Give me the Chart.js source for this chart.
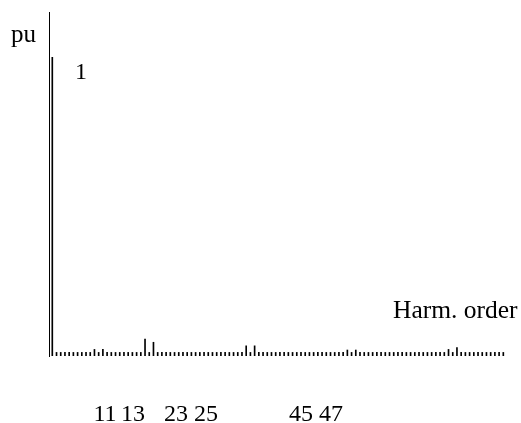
<!DOCTYPE html>
<html>
<head>
<meta charset="utf-8">
<script src="https://cdn.jsdelivr.net/npm/chart.js@4/dist/chart.umd.min.js"></script>
<style>
  html, body { margin: 0; padding: 0; background: #fff; }
  #wrap { position: relative; width: 521px; height: 423px; }
</style>
</head>
<body>
<div id="wrap"><canvas id="harmChart"></canvas></div>
<script>
// harmonic orders on the x axis
const orders = [
  1, 2, 3, 4, 5, 6, 7, 8, 9, 10, 11, 12, 13, 14, 15, 16, 17, 18, 19, 20,
  21, 22, 23, 24, 25, 26, 27, 28, 29, 30, 31, 32, 33, 34, 35, 36, 37, 38, 39, 40,
  41, 42, 43, 44, 45, 46, 47, 48, 49, 50, 51, 52, 53, 54, 55, 56, 57, 58, 59, 60,
  61, 62, 63, 64, 65, 66, 67, 68, 69, 70, 71, 72, 73, 74, 75, 76, 77, 78, 79, 80,
  81, 82, 83, 84, 85, 86, 87, 88, 89, 90, 91, 92, 93, 94, 95, 96, 97, 98, 99, 100,
  101, 102, 103, 104, 105, 106, 107, 108
];

// amplitude in pu
const amplitude = [
  1.000, 0.012, 0.012, 0.012, 0.012, 0.012, 0.012, 0.012, 0.012, 0.012,
  0.022, 0.012, 0.022, 0.012, 0.012, 0.012, 0.012, 0.012, 0.012, 0.012,
  0.012, 0.012, 0.057, 0.012, 0.046, 0.012, 0.012, 0.012, 0.012, 0.012,
  0.012, 0.012, 0.012, 0.012, 0.012, 0.012, 0.012, 0.012, 0.012, 0.012,
  0.012, 0.012, 0.012, 0.012, 0.012, 0.012, 0.034, 0.012, 0.034, 0.012,
  0.012, 0.012, 0.012, 0.012, 0.012, 0.012, 0.012, 0.012, 0.012, 0.012,
  0.012, 0.012, 0.012, 0.012, 0.012, 0.012, 0.012, 0.012, 0.012, 0.012,
  0.020, 0.012, 0.020, 0.012, 0.012, 0.012, 0.012, 0.012, 0.012, 0.012,
  0.012, 0.012, 0.012, 0.012, 0.012, 0.012, 0.012, 0.012, 0.012, 0.012,
  0.012, 0.012, 0.012, 0.012, 0.022, 0.012, 0.028, 0.012, 0.012, 0.012,
  0.012, 0.012, 0.012, 0.012, 0.012, 0.012, 0.012, 0.012
];

// texts under the axis, as in the picture
const bottomLabels = ['11', '13', '23', '25', '45', '47'];
const bottomLabelX = [105, 133, 176, 206, 301, 331];

const serif = '"Liberation Serif", "Times New Roman", serif';

const textPlugin = {
  id: 'texts',
  afterDraw(chart) {
    const ctx = chart.ctx;
    ctx.save();
    ctx.fillStyle = '#000';
    ctx.textBaseline = 'alphabetic';
    ctx.font = '25px ' + serif;
    ctx.textAlign = 'left';
    ctx.fillText('pu', 11, 42);
    ctx.font = '24px ' + serif;
    ctx.textAlign = 'center';
    ctx.fillText('1', 81, 79);
    ctx.font = '25.5px ' + serif;
    ctx.textAlign = 'left';
    ctx.fillText('Harm. order', 393, 318);
    ctx.font = '24px ' + serif;
    ctx.textAlign = 'center';
    bottomLabels.forEach((t, i) => ctx.fillText(t, bottomLabelX[i], 421));
    ctx.restore();
  }
};

new Chart(document.getElementById('harmChart'), {
  type: 'bar',
  data: {
    datasets: [{
      data: orders.map((o, i) => ({ x: o, y: amplitude[i] })),
      backgroundColor: '#000',
      barThickness: 1
    }]
  },
  options: {
    responsive: true,
    maintainAspectRatio: false,
    animation: false,
    layout: { padding: { left: 49, right: 16, top: 12, bottom: 67 } },
    plugins: {
      legend: { display: false },
      tooltip: { enabled: false }
    },
    scales: {
      x: {
        type: 'linear',
        display: false,
        offset: false,
        min: 0.217,
        max: 108.4
      },
      y: {
        min: 0,
        max: 1.152,
        grid: { display: false, drawTicks: false },
        ticks: { display: false },
        border: { display: true, color: '#000', width: 1 }
      }
    }
  },
  plugins: [textPlugin]
});
</script>
</body>
</html>
